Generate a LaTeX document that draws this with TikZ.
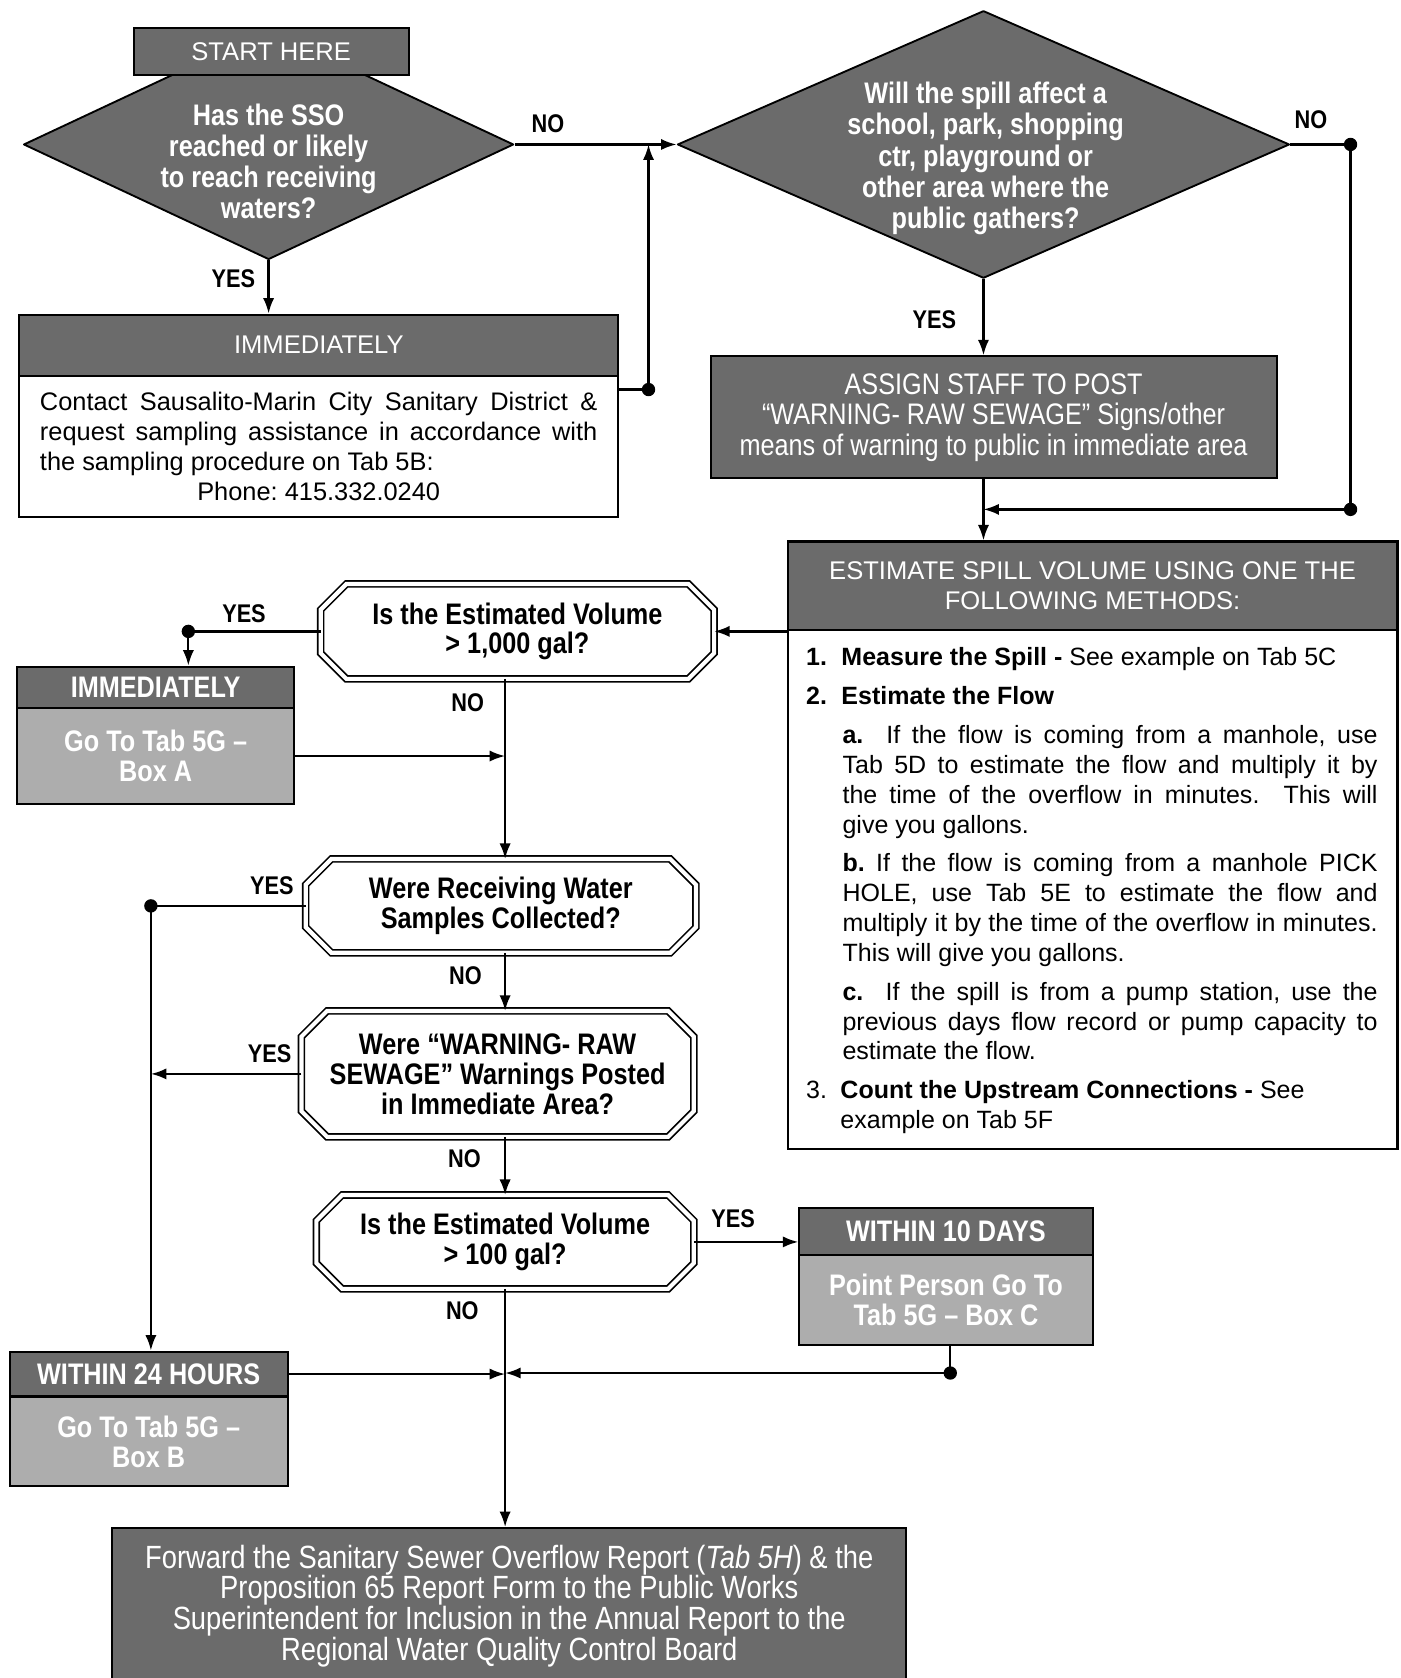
\documentclass[tikz,border=0pt]{standalone}
\usepackage{fontspec}
\setmainfont{Liberation Sans}
\newfontfamily\nrwfont[FakeStretch=0.85]{Liberation Sans}
\usetikzlibrary{arrows.meta,shapes.geometric,calc}
\frenchspacing
\newcommand\fBody{\fontsize{13.5}{15.93}\selectfont}
\newcommand\fEst{\fontsize{13.3}{15.93}\selectfont}
\newcommand\fHdr{\fontsize{13.6}{16}\selectfont}
\newcommand\fNB{\nrwfont\bfseries\fontsize{15.8}{15.9}\selectfont}
\newcommand\fDia{\nrwfont\bfseries\fontsize{15.8}{16.5}\selectfont}
\newcommand\fNR{\nrwfont\fontsize{15.8}{16.2}\selectfont}
\newcommand\fFin{\nrwfont\fontsize{17.1}{16.3}\selectfont}
\newcommand\fLbl{\nrwfont\bfseries\fontsize{13.6}{15}\selectfont}
\tikzset{
 bx/.style={draw=black, line width=1.1pt, inner sep=0pt, anchor=north west},
 darkbox/.style={bx, fill=black!58, text=white},
 lightbox/.style={bx, fill=black!32, text=white},
 whitebox/.style={bx, fill=white},
 conn/.style={line width=1.2pt},
 arr/.style={conn, -{Latex[length=0.29cm,width=0.21cm]}},
 jdot/.style={circle, fill=black, inner sep=0pt, minimum size=0.25cm},
 lbl/.style={font=\fLbl},
 octline/.style={draw=black, line width=0.9pt, double=white, double distance=2.2pt},
 octnode/.style={inner sep=0pt, align=center, font=\fNB},
 dia/.style={diamond, draw=black, line width=1pt, line join=round, fill=black!58, inner sep=0pt},
}
\newcommand\octframe[2]{%
 \draw[octline] ([xshift=#2]#1.north west) -- ([xshift=-#2]#1.north east) -- ([yshift=-#2]#1.north east) -- ([yshift=#2]#1.south east) -- ([xshift=-#2]#1.south east) -- ([xshift=#2]#1.south west) -- ([yshift=#2]#1.south west) -- ([yshift=-#2]#1.north west) -- cycle;}
\begin{document}
\begin{tikzpicture}[x=0.02cm, y=-0.02cm]
\useasboundingbox (0,0) rectangle (1309,1568);
\fill[white] (0,0) rectangle (1309,1568);

% top-left decision
\node[dia, minimum width=9.16cm, minimum height=4.3cm] (d1) at (251,135) {};
\node[font=\fDia, text=white, align=center] (d1t) at (251,151) {Has the SSO\\reached or likely\\to reach receiving\\waters?};
\node[darkbox, minimum width=5.14cm, minimum height=0.88cm, font=\fHdr] (start) at (124,25) {START HERE};

% top-right decision
\node[dia, minimum width=11.44cm, minimum height=5.0cm] (d2) at (919,135) {};
\node[font=\fDia, text=white, align=center] (d2t) at (921,148) {Will the spill affect a\\school, park, shopping\\ctr, playground or\\other area where the\\public gathers?};

% immediately box
\node[darkbox, minimum width=11.2cm, minimum height=1.14cm, font=\fHdr] (immh) at (17,293) {IMMEDIATELY};
\node[whitebox, minimum width=11.2cm, minimum height=2.64cm] (immb) at (17,350) {};
\node[anchor=north west, inner sep=0pt, text width=10.42cm, align=justify, font=\fBody] (immt) at (37,366) {\parindent=0pt Contact Sausalito-Marin City Sanitary District \&\linebreak request sampling assistance in accordance with\linebreak the sampling procedure on Tab 5B:\par\centerline{Phone: 415.332.0240}};

% assign staff
\node[darkbox, minimum width=10.58cm, minimum height=2.28cm, font=\fNR, align=center] (assign) at (663,332) {ASSIGN STAFF TO POST\\“WARNING- RAW SEWAGE” Signs/other\\means of warning to public in immediate area};

% estimate box
\node[darkbox, minimum width=11.4cm, minimum height=1.66cm, font=\fHdr, align=center] (esth) at (735,505) {ESTIMATE SPILL VOLUME USING ONE THE\\FOLLOWING METHODS:};
\node[whitebox, minimum width=11.4cm, minimum height=9.7cm] (estb) at (735,588) {};
\node[anchor=north west, inner sep=0pt, text width=10.68cm, align=justify, font=\fEst] (estt) at (753,605) {%
\setlength{\parindent}{0pt}\setlength{\parskip}{4.6pt}%
\hangindent=0.66cm\hangafter=1
\makebox[0.66cm][l]{\textbf{1.}}\textbf{Measure the Spill -} See example on Tab 5C\par
\makebox[0.66cm][l]{\textbf{2.}}\textbf{Estimate the Flow}\par
\leftskip=0.68cm
\textbf{a.}\ \ If the flow is coming from a manhole, use\linebreak
Tab 5D to estimate the flow and multiply it by\linebreak
the time of the overflow in minutes.\ \ This will\linebreak
give you gallons.\par
\textbf{b.} If the flow is coming from a manhole PICK\linebreak
HOLE, use Tab 5E to estimate the flow and\linebreak
multiply it by the time of the overflow in minutes.\linebreak
This will give you gallons.\par
\textbf{c.}\ \ If the spill is from a pump station, use the\linebreak
previous days flow record or pump capacity to\linebreak
estimate the flow.\par
\leftskip=0pt
\hangindent=0.64cm\hangafter=1
\makebox[0.64cm][l]{3.}\textbf{Count the Upstream Connections -} See\newline
example on Tab 5F\par}; 

% octagon decisions
\node[octnode, minimum width=7.34cm, minimum height=1.76cm] (oct1) at (483.5,590) {Is the Estimated Volume\\> 1,000 gal?};
\node[octnode, minimum width=7.28cm, minimum height=1.74cm] (oct2) at (468,846.5) {Were Receiving Water\\Samples Collected?};
\node[octnode, minimum width=7.32cm, minimum height=2.34cm] (oct3) at (465,1003.5) {Were “WARNING- RAW\\SEWAGE” Warnings Posted\\in Immediate Area?};
\node[octnode, minimum width=7.04cm, minimum height=1.74cm] (oct4) at (472,1160.5) {Is the Estimated Volume\\> 100 gal?};
\octframe{oct1}{0.48cm}
\octframe{oct2}{0.48cm}
\octframe{oct3}{0.48cm}
\octframe{oct4}{0.48cm}

% small boxes
\node[darkbox, minimum width=5.18cm, minimum height=0.78cm, font=\fNB] (ah) at (15,622) {IMMEDIATELY};
\node[lightbox, minimum width=5.18cm, minimum height=1.78cm, font=\fNB, align=center] (ab) at (15,661) {Go To Tab 5G –\\Box A};
\node[darkbox, minimum width=5.2cm, minimum height=0.84cm, font=\fNB] (bh) at (8,1262) {WITHIN 24 HOURS};
\node[lightbox, minimum width=5.2cm, minimum height=1.68cm, font=\fNB, align=center] (bb) at (8,1304) {Go To Tab 5G –\\Box B};
\node[darkbox, minimum width=5.48cm, minimum height=0.88cm, font=\fNB] (ch) at (746,1128) {WITHIN 10 DAYS};
\node[lightbox, minimum width=5.48cm, minimum height=1.68cm, font=\fNB, align=center] (cb) at (746,1172) {Point Person Go To\\Tab 5G – Box C};

% final box
\node[darkbox, minimum width=14.84cm, minimum height=2.9cm, font=\fFin, align=center] (fin) at (104,1427) {Forward the Sanitary Sewer Overflow Report (\textit{Tab 5H}) \& the\\Proposition 65 Report  Form to the Public Works\\Superintendent for Inclusion in the Annual Report to the\\Regional Water Quality Control Board};

% junctions
\coordinate (vl) at (472,0);
\node[jdot] (pA) at (606,364) {};
\node[jdot] (pB) at (1262,135) {};
\node[jdot] (pC) at (1262,476) {};
\node[jdot] (pD) at (176,590) {};
\node[jdot] (pE) at (141,846.5) {};
\node[jdot] (pF) at (888,1283) {};

% connectors
\draw[arr] (d1.south) -- (d1.south |- immh.north);
\draw[arr] (d1.east) -- (d2.west);
\draw[conn] (immb.east |- pA) -- (pA.center);
\draw[arr] (pA.center) -- (pA |- d1.east);
\draw[conn] (d2.east) -- (pB.center) -- (pC.center);
\draw[arr] (pC.center) -- (pC -| d2.south);
\draw[arr] (d2.south) -- (d2.south |- assign.north);
\draw[arr] (assign.south -| d2.south) -- (esth.north -| d2.south);
\draw[arr] (oct1.east -| esth.west) -- (oct1.east);
\draw[conn] (oct1.west) -- (pD.center);
\draw[arr] (pD.center) -- (pD |- ah.north);
\draw[arr] (ab.east) -- (ab.east -| vl);
\draw[arr] (oct1.south -| vl) -- (oct2.north -| vl);
\draw[conn] (oct2.west) -- (pE.center);
\draw[arr] (pE.center) -- (pE |- bh.north);
\draw[arr] (oct3.west) -- (oct3.west -| pE);
\draw[arr] (oct2.south -| vl) -- (oct3.north -| vl);
\draw[arr] (oct3.south -| vl) -- (oct4.north -| vl);
\draw[arr] (oct4.east) -- (oct4.east -| ch.west);
\draw[arr] (oct4.south -| vl) -- (fin.north -| vl);
\draw[arr] (bh.east) -- (bh.east -| vl);
\draw[conn] (cb.south -| pF) -- (pF.center);
\draw[arr] (pF.center) -- (pF -| vl);

% labels
\node[lbl] (l1) at (218,260) {YES};
\node[lbl] (l2) at (512,116) {NO};
\node[lbl] (l3) at (1225,112) {NO};
\node[lbl] (l4) at (873,299) {YES};
\node[lbl] (l5) at (228,573) {YES};
\node[lbl] (l6) at (437,657) {NO};
\node[lbl] (l7) at (254,828) {YES};
\node[lbl] (l8) at (435,912) {NO};
\node[lbl] (l9) at (252,985) {YES};
\node[lbl] (l10) at (434,1083) {NO};
\node[lbl] (l11) at (685,1139) {YES};
\node[lbl] (l12) at (432,1225) {NO};
\end{tikzpicture}
\end{document}
